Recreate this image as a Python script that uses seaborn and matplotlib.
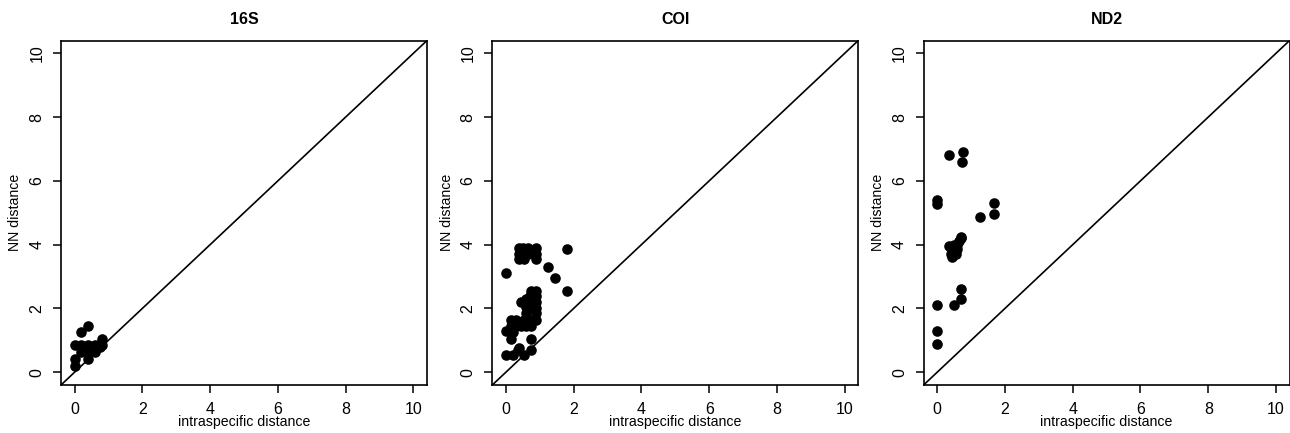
import matplotlib
matplotlib.use("Agg")
import matplotlib.pyplot as plt
import seaborn as sns
import pandas as pd

# values (intraspecific distance, NN distance)
markers = ["16S", "COI", "ND2"]

s16_intra = [0.4, 0.2, 0.0, 0.2, 0.4, 0.6, 0.8, 0.8, 0.2, 0.4, 0.6, 0.0, 0.4, 0.0, 0.75, 0.3]
s16_nn = [1.45, 1.25, 0.85, 0.85, 0.85, 0.85, 0.85, 1.05, 0.65, 0.65, 0.65, 0.4, 0.4, 0.2, 0.8, 0.75]

coi_intra = [0.4, 0.5, 0.65, 0.9, 0.4, 0.5, 0.65, 0.9, 0.4, 0.55, 0.9, 1.8, 0.0, 1.25, 1.45, 1.8,
             0.75, 0.9, 0.7, 0.9, 0.45, 0.6, 0.75, 0.9, 0.6, 0.75, 0.9, 0.6, 0.9,
             0.15, 0.3, 0.55, 0.75, 0.9, 0.15, 0.3, 0.45, 0.6, 0.75, 0.0, 0.2, 0.15, 0.75,
             0.4, 0.0, 0.2, 0.35, 0.55, 0.75]
coi_nn = [3.9, 3.9, 3.9, 3.9, 3.7, 3.75, 3.7, 3.7, 3.55, 3.55, 3.55, 3.85, 3.1, 3.3, 2.95, 2.55,
          2.55, 2.55, 2.4, 2.4, 2.2, 2.3, 2.2, 2.2, 2.05, 2.0, 2.0, 1.85, 1.85,
          1.65, 1.65, 1.65, 1.65, 1.65, 1.45, 1.45, 1.45, 1.45, 1.45, 1.3, 1.25, 1.05, 1.05,
          0.75, 0.55, 0.55, 0.7, 0.55, 0.7]

nd2_intra = [0.0, 0.0, 0.36, 0.75, 0.72, 1.68, 1.68, 1.27,
             0.35, 0.4, 0.5, 0.6, 0.7, 0.5, 0.65, 0.45, 0.55, 0.6, 0.4, 0.7, 0.55, 0.45,
             0.7, 0.7, 0.5, 0.0, 0.0, 0.0]
nd2_nn = [5.4, 5.28, 6.82, 6.92, 6.6, 5.3, 4.97, 4.87,
          3.95, 3.7, 3.8, 4.0, 4.2, 4.0, 4.1, 3.6, 3.7, 3.85, 3.9, 4.25, 3.95, 3.75,
          2.6, 2.3, 2.1, 2.1, 1.3, 0.9]

ticks = [0, 2, 4, 6, 8, 10]

df = pd.concat([
    pd.DataFrame({"marker": "16S", "intra": s16_intra, "nn": s16_nn}),
    pd.DataFrame({"marker": "COI", "intra": coi_intra, "nn": coi_nn}),
    pd.DataFrame({"marker": "ND2", "intra": nd2_intra, "nn": nd2_nn}),
])

sns.set_style("ticks")
plt.rcParams["font.family"] = ["Liberation Sans", "DejaVu Sans"]
plt.rcParams["text.color"] = "black"
plt.rcParams["axes.labelcolor"] = "black"
plt.rcParams["xtick.color"] = "black"
plt.rcParams["ytick.color"] = "black"

fig = plt.figure(figsize=(12.9, 4.33), dpi=100)
W, H = 1290, 433
lefts = [61, 492.3, 923.6]

for left, name in zip(lefts, markers):
    ax = fig.add_axes([left / W, 48 / H, 366 / W, 344.5 / H])
    sub = df[df["marker"] == name]
    sns.scatterplot(data=sub, x="intra", y="nn", ax=ax, color="black",
                    s=58, edgecolor="black", linewidth=0, zorder=3)
    ax.axline((0, 0), slope=1, color="black", lw=1.2)
    ax.set_xlim(-0.4, 10.4)
    ax.set_ylim(-0.4, 10.4)
    ax.set_xticks(ticks)
    ax.set_yticks(ticks)
    ax.set_xlabel("intraspecific distance", fontsize=10.2, labelpad=-1)
    ax.set_ylabel("NN distance", fontsize=10.2, labelpad=5)
    ax.set_title(name, fontsize=11.5, fontweight="bold", pad=12)
    ax.tick_params(length=6, width=1.1, labelsize=11.5, pad=6)
    for lab in ax.get_yticklabels():
        lab.set_rotation(90)
        lab.set_va("center")
    for sp in ax.spines.values():
        sp.set_visible(True)
        sp.set_linewidth(1.2)
        sp.set_color("black")

fig.savefig("out.png", dpi=100)
